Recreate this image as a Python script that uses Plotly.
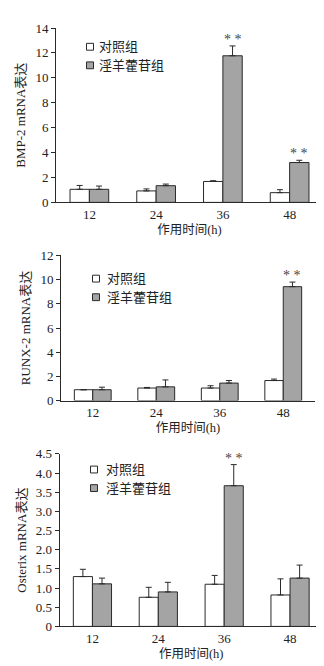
import plotly.graph_objects as go

hours = ["12", "24", "36", "48"]
groups = ["对照组", "淫羊藿苷组"]
x_title = "作用时间(h)"

bmp_ctrl = [1.05, 0.92, 1.68, 0.78]
bmp_ctrl_err = [0.31, 0.16, 0.06, 0.24]
bmp_treat = [1.05, 1.34, 11.77, 3.20]
bmp_treat_err = [0.26, 0.13, 0.79, 0.18]
bmp_sig = ["", "", "**", "**"]

runx_ctrl = [0.90, 1.04, 1.04, 1.66]
runx_ctrl_err = [0.0, 0.05, 0.19, 0.12]
runx_treat = [0.90, 1.14, 1.45, 9.42]
runx_treat_err = [0.21, 0.57, 0.21, 0.38]
runx_sig = ["", "", "", "**"]

ost_ctrl = [1.30, 0.76, 1.10, 0.82]
ost_ctrl_err = [0.19, 0.26, 0.23, 0.42]
ost_treat = [1.11, 0.90, 3.67, 1.26]
ost_treat_err = [0.15, 0.25, 0.55, 0.34]
ost_sig = ["", "", "**", ""]

y_titles = ["BMP-2 mRNA表达", "RUNX-2 mRNA表达", "Osterix mRNA表达"]
y_ticks = [
    ([0, 2, 4, 6, 8, 10, 12, 14], ["0", "2", "4", "6", "8", "10", "12", "14"]),
    ([0, 2, 4, 6, 8, 10, 12], ["0", "2", "4", "6", "8", "10", "12"]),
    ([0, 0.5, 1.0, 1.5, 2.0, 2.5, 3.0, 3.5, 4.0, 4.5],
     ["0", "0.5", "1.0", "1.5", "2.0", "2.5", "3.0", "3.5", "4.0", "4.5"]),
]
y_ranges = [[0, 14], [0, 12], [0, 4.5]]

W, H = 324, 666
FONT = "Liberation Serif, Noto Sans CJK SC, serif"
LINE = "#2a2a2a"
GRAY = "#a4a4a4"
BARGAP = 0.42

# panel geometry in pixels: (x_left, x_right, y_top, y_bottom)
panels = [
    (48, 315, 13.3, 191.7),
    (53, 307, 246.0, 394.5),
    (51.5, 315, 449.0, 625.5),
]
legend_pos = [(82, 89, 32.5, 51.5), (88, 97, 269.7, 288.7), (86, 96, 465, 484)]

datasets = [
    (bmp_ctrl, bmp_ctrl_err, bmp_treat, bmp_treat_err, bmp_sig),
    (runx_ctrl, runx_ctrl_err, runx_treat, runx_treat_err, runx_sig),
    (ost_ctrl, ost_ctrl_err, ost_treat, ost_treat_err, ost_sig),
]

fig = go.Figure()
annotations = []
shapes = []

for i, (c, ce, t, te, sig) in enumerate(datasets):
    n = i + 1
    xa = "x" if n == 1 else f"x{n}"
    ya = "y" if n == 1 else f"y{n}"
    for vals, errs, fill, name in [(c, ce, "white", groups[0]), (t, te, GRAY, groups[1])]:
        fig.add_trace(go.Bar(
            x=hours, y=vals, name=name, showlegend=False,
            marker=dict(color=fill, line=dict(color=LINE, width=1)),
            error_y=dict(type="data", symmetric=False, array=errs,
                         arrayminus=[0] * len(errs), color=LINE,
                         thickness=1, width=3),
            xaxis=xa, yaxis=ya,
        ))
    x0, x1, yt, yb = panels[i]
    xk = "xaxis" if n == 1 else f"xaxis{n}"
    yk = "yaxis" if n == 1 else f"yaxis{n}"
    fig.update_layout(**{
        xk: dict(domain=[x0 / W, x1 / W], anchor=ya, type="category",
                 showline=True, linecolor=LINE, linewidth=1, ticks="",
                 tickfont=dict(family=FONT, size=13, color="#222"),
                 title=dict(text=x_title, font=dict(family=FONT, size=12.5, color="#222"),
                            standoff=4),
                 showgrid=False, zeroline=False, fixedrange=True),
        yk: dict(domain=[1 - yb / H, 1 - yt / H], anchor=xa, range=y_ranges[i],
                 tickvals=y_ticks[i][0], ticktext=y_ticks[i][1],
                 showline=True, linecolor=LINE, linewidth=1, ticks="outside",
                 ticklen=4, tickcolor=LINE,
                 tickfont=dict(family=FONT, size=13, color="#222"),
                 title=dict(text=y_titles[i], font=dict(family=FONT, size=13, color="#222"),
                            standoff=6),
                 showgrid=False, zeroline=False, fixedrange=True),
    })
    # significance marks above treated bars
    bw = (1 - BARGAP) / 2
    for k, s in enumerate(sig):
        if s:
            annotations.append(dict(
                x=k + bw / 2, y=t[k] + te[k], xref=xa, yref=ya, text="* *",
                showarrow=False, yanchor="bottom", yshift=-3,
                font=dict(family=FONT, size=14, color="#444"),
            ))
    # legend drawn as swatches + labels
    sx, tx, r1, r2 = legend_pos[i]
    for (ry, fill, label) in [(r1, "white", groups[0]), (r2, GRAY, groups[1])]:
        shapes.append(dict(type="rect", xref="paper", yref="paper",
                           x0=(sx - 3.5) / W, x1=(sx + 3.5) / W,
                           y0=1 - (ry + 3.5) / H, y1=1 - (ry - 3.5) / H,
                           fillcolor=fill, line=dict(color=LINE, width=1)))
        annotations.append(dict(x=tx / W, y=1 - ry / H, xref="paper", yref="paper",
                                text=label, showarrow=False, xanchor="left",
                                yanchor="middle",
                                font=dict(family=FONT, size=13, color="#222")))

fig.update_layout(
    width=W, height=H, margin=dict(l=0, r=0, t=0, b=0),
    barmode="group", bargap=BARGAP, bargroupgap=0,
    plot_bgcolor="white", paper_bgcolor="white",
    showlegend=False, annotations=annotations, shapes=shapes,
)

fig.write_html("out.html")
